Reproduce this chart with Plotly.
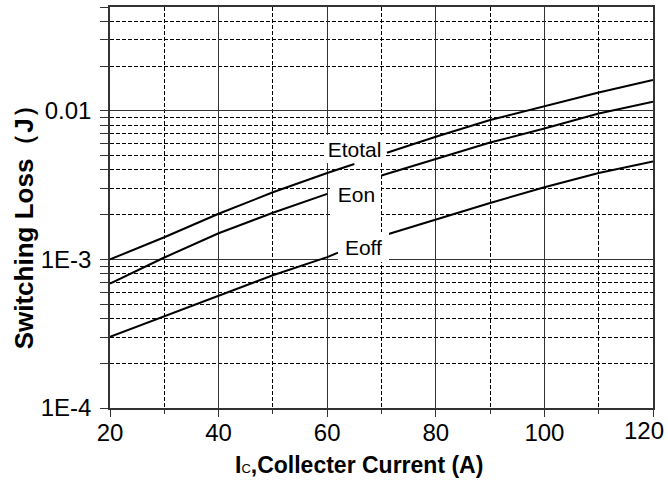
import math
import plotly.graph_objects as go

# Collector current (A) and switching energy (J) for each curve; None marks a label gap
ic_total = [20, 30, 40, 50, 60, 65, None, 71, 80, 90, 100, 110, 120]
e_total = [0.00100, 0.00141, 0.00203, 0.00283, 0.00382, 0.00439, None,
           0.00522, 0.00670, 0.00867, 0.01069, 0.01328, 0.01616]

ic_on = [20, 30, 40, 50, 60, None, 70, 80, 90, 100, 110, 120]
e_on = [0.000687, 0.00103, 0.00150, 0.00206, 0.00276, None,
        0.00367, 0.00474, 0.00612, 0.00760, 0.00959, 0.01153]

ic_off = [20, 30, 40, 50, 60, 62, None, 71, 80, 90, 100, 110, 120]
e_off = [0.000301, 0.000414, 0.000565, 0.000782, 0.001036, 0.00111, None,
         0.00147, 0.00185, 0.00240, 0.00306, 0.00382, 0.00457]

x_ticks = [20, 40, 60, 80, 100, 120]
x_ticktext = ["20", "40", "60", "80", "100", "120"]
x_minor = [30, 50, 70, 90, 110]
y_ticks = [1e-4, 1e-3, 1e-2]
y_ticktext = ["1E-4", "1E-3", "0.01"]
y_minor = [m * d for d in (1e-4, 1e-3, 1e-2) for m in range(2, 10) if m * d <= 0.05]

FONT = "Liberation Sans, Arial, sans-serif"
GRID = "#333333"
TICK_FONT = dict(family=FONT, size=24, color="black")

fig = go.Figure()
for xs, ys in ((ic_total, e_total), (ic_on, e_on), (ic_off, e_off)):
    fig.add_trace(go.Scatter(
        x=xs, y=ys, mode="lines", connectgaps=False,
        line=dict(color="black", width=2), showlegend=False, hoverinfo="skip",
    ))

# curve labels on white boxes
labels = [
    ("Etotal", 65.0, -2.255, 59, 28),
    ("Eon", 65.4, -2.560, 49, 42),
    ("Eoff", 66.6, -2.919, 51, 30),
]
for text, lx, ly, w, h in labels:
    fig.add_annotation(
        x=lx, y=ly, xref="x", yref="y", text=text, showarrow=False,
        xanchor="center", yanchor="middle", width=w, height=h,
        bgcolor="white", borderpad=0, borderwidth=0,
        font=dict(family=FONT, size=21, color="black"),
    )

# last x tick label is right-aligned so it stays inside the page
fig.add_annotation(
    x=1.024, y=-0.057, xref="paper", yref="paper", showarrow=False,
    xanchor="right", yanchor="middle", text=x_ticktext[-1], font=TICK_FONT,
)

# axis titles
fig.add_annotation(
    x=0.459, y=-0.142, xref="paper", yref="paper", showarrow=False,
    xanchor="center", yanchor="middle",
    text="I<span style='font-size:13px;font-weight:normal'>C</span>,Collecter Current (A)",
    font=dict(family=FONT, size=23, color="black", weight="bold"),
)
fig.add_annotation(
    x=-0.158, y=0.466, xref="paper", yref="paper", showarrow=False,
    xanchor="center", yanchor="middle", textangle=-90,
    text="Switching Loss（J）",
    font=dict(family=FONT, size=26, color="black", weight="bold"),
)

fig.update_xaxes(
    range=[20, 120], tickvals=x_ticks, ticktext=x_ticktext[:-1] + [""],
    ticks="outside", ticklen=7, tickwidth=1,
    tickcolor=GRID, showline=True, linecolor=GRID, linewidth=1.5, mirror=True,
    showgrid=True, gridcolor=GRID, gridwidth=1, zeroline=False,
    automargin=False, ticklabelstandoff=-5, tickfont=TICK_FONT,
    minor=dict(tickvals=x_minor, ticks="outside", ticklen=4, tickcolor=GRID,
               showgrid=True, gridcolor="black", griddash="4px,2px", gridwidth=1),
)
fig.update_yaxes(
    type="log", range=[-4, math.log10(0.05)], tickvals=y_ticks, ticktext=y_ticktext,
    ticks="outside", ticklen=8, tickwidth=1, tickcolor=GRID,
    showline=True, linecolor=GRID, linewidth=1.5, mirror=True,
    showgrid=True, gridcolor=GRID, gridwidth=1, zeroline=False, automargin=False,
    tickfont=TICK_FONT, ticklabelstandoff=4,
    minor=dict(tickvals=y_minor, ticks="outside", ticklen=8, tickcolor=GRID,
               showgrid=True, gridcolor="black", griddash="4px,2px", gridwidth=1),
)

fig.update_layout(
    width=668, height=481,
    margin=dict(l=110, r=15, t=7, b=73),
    paper_bgcolor="white", plot_bgcolor="white",
)

fig.write_html("out.html")
